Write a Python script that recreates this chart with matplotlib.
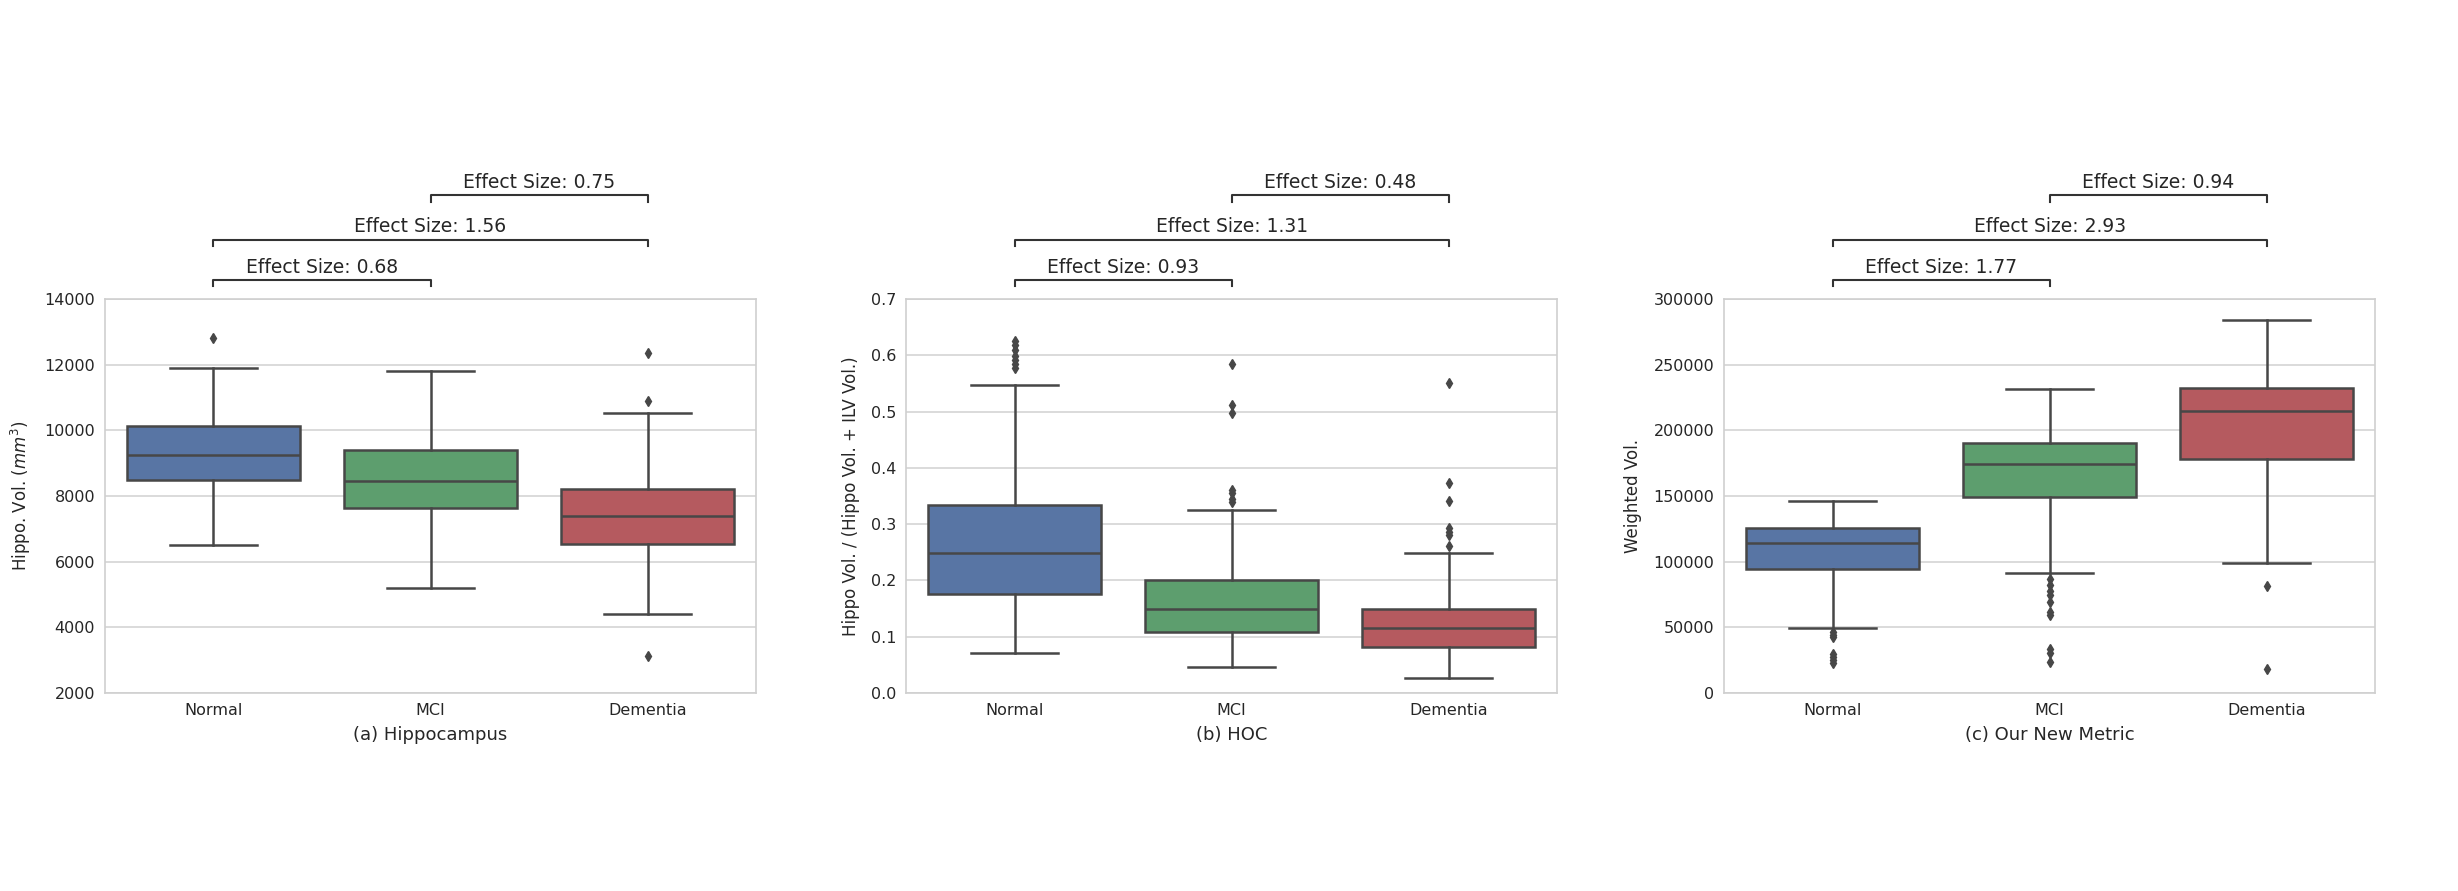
import matplotlib
matplotlib.use("Agg")
from matplotlib import pyplot as plt

# categories
groups = ["Normal", "MCI", "Dementia"]
pairs = [(0, 1), (0, 2), (1, 2)]

# (a) hippocampus volume
hippo_whislo = [6510, 5200, 4410]
hippo_q1 = [8480, 7650, 6540]
hippo_med = [9250, 8450, 7380]
hippo_q3 = [10130, 9410, 8210]
hippo_whishi = [11890, 11800, 10530]
hippo_fliers = [[12820], [], [12350, 10880, 3120]]
hippo_effect = [0.68, 1.56, 0.75]

# (b) HOC
hoc_whislo = [0.071, 0.047, 0.027]
hoc_q1 = [0.176, 0.109, 0.081]
hoc_med = [0.248, 0.150, 0.115]
hoc_q3 = [0.334, 0.200, 0.149]
hoc_whishi = [0.548, 0.325, 0.248]
hoc_fliers = [[0.625, 0.618, 0.610, 0.598, 0.592, 0.585, 0.578],
              [0.584, 0.512, 0.498, 0.360, 0.355, 0.345, 0.339],
              [0.551, 0.373, 0.341, 0.293, 0.286, 0.281, 0.262]]
hoc_effect = [0.93, 1.31, 0.48]

# (c) new metric
metric_whislo = [49500, 91700, 98900]
metric_q1 = [94600, 149600, 178100]
metric_med = [114000, 174600, 214700]
metric_q3 = [125700, 190600, 232200]
metric_whishi = [146000, 231300, 284000]
metric_fliers = [[46500, 44000, 42500, 29500, 27500, 25500, 23000],
                 [87000, 82000, 77700, 74800, 69300, 61700, 59400, 33200, 30300, 23900],
                 [81200, 18000]]
metric_effect = [1.77, 2.93, 0.94]

box_colors = ["#5875a4", "#5d9e6e", "#b55a5f"]
line_gray = "#474747"
cond = ["DejaVu Sans Condensed", "DejaVu Sans"]


def make_stats(lo, q1, med, q3, hi, fl):
    out = []
    for k in range(len(groups)):
        out.append(dict(whislo=lo[k], q1=q1[k], med=med[k], q3=q3[k],
                        whishi=hi[k], fliers=fl[k], label=groups[k]))
    return out


panels = [
    (make_stats(hippo_whislo, hippo_q1, hippo_med, hippo_q3, hippo_whishi, hippo_fliers),
     (2000, 14000), list(range(2000, 14001, 2000)), "{:.0f}",
     r"Hippo. Vol. ($mm^3$)", "(a) Hippocampus", hippo_effect),
    (make_stats(hoc_whislo, hoc_q1, hoc_med, hoc_q3, hoc_whishi, hoc_fliers),
     (0, 0.7), [i / 10 for i in range(8)], "{:.1f}",
     "Hippo Vol. / (Hippo Vol. + ILV Vol.)", "(b) HOC", hoc_effect),
    (make_stats(metric_whislo, metric_q1, metric_med, metric_q3, metric_whishi, metric_fliers),
     (0, 300000), list(range(0, 300001, 50000)), "{:.0f}",
     "Weighted Vol.", "(c) Our New Metric", metric_effect),
]

fig = plt.figure(figsize=(24.58, 8.91), dpi=100)
lefts = [0.0427, 0.3686, 0.7014]
bracket_y = [1.048, 1.151, 1.263]

for n, (stats, ylim, yticks, fmt, ylabel, xlabel, effects) in enumerate(panels):
    ax = fig.add_axes([lefts[n], 0.2222, 0.2649, 0.4422])
    bp = ax.bxp(stats, positions=[0, 1, 2], widths=0.8, patch_artist=True,
                capwidths=0.4,
                boxprops=dict(edgecolor=line_gray, linewidth=1.8),
                medianprops=dict(color=line_gray, linewidth=1.8),
                whiskerprops=dict(color=line_gray, linewidth=1.8),
                capprops=dict(color=line_gray, linewidth=1.8),
                flierprops=dict(marker="d", markersize=5, markerfacecolor=line_gray,
                                markeredgecolor=line_gray, linestyle="none"))
    for patch, c in zip(bp["boxes"], box_colors):
        patch.set_facecolor(c)
    ax.set_xlim(-0.5, 2.5)
    ax.set_ylim(*ylim)
    ax.set_yticks(yticks)
    ax.set_yticklabels([fmt.format(v) for v in yticks], family=cond, fontsize=11.5,
                       color="#262626")
    ax.set_xticks([0, 1, 2])
    ax.set_xticklabels(groups, family=cond, fontsize=11.5, color="#262626")
    ax.tick_params(length=0, pad=7)
    ax.set_axisbelow(True)
    ax.yaxis.grid(True, color="#d4d4d4", linewidth=1.2)
    for sp in ax.spines.values():
        sp.set_color("#cfcfcf")
        sp.set_linewidth(1.2)
    ax.set_ylabel(ylabel, fontsize=12, color="#262626", labelpad=8)
    ax.set_xlabel(xlabel, family=cond, fontsize=13, color="#262626", labelpad=6)

    # effect size brackets
    tr = ax.get_xaxis_transform()
    for (i, j), h, e in zip(pairs, bracket_y, effects):
        ax.plot([i, i, j, j], [h - 0.016, h, h, h - 0.016], transform=tr,
                clip_on=False, color="#333333", linewidth=1.5)
        ax.text((i + j) / 2, h + 0.008, "Effect Size: {:.2f}".format(e), transform=tr,
                ha="center", va="bottom", family=cond, fontsize=13.5, color="#262626")

fig.savefig("out.png", dpi=100)
